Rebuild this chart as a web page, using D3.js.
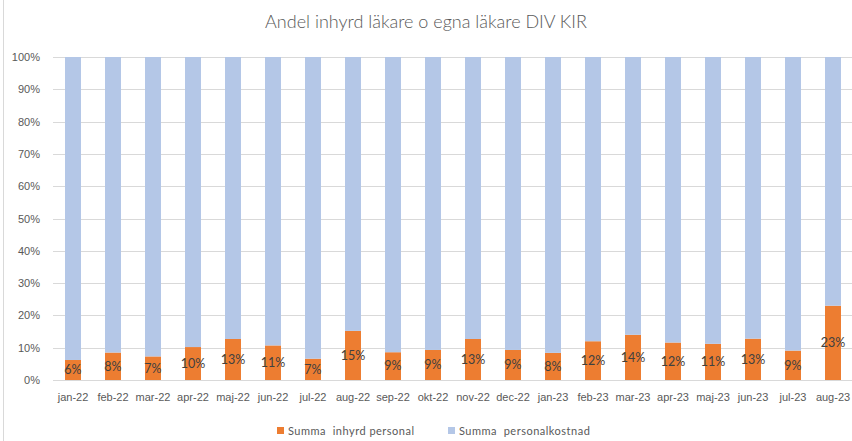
<!DOCTYPE html>
<html lang="sv">
<head>
<meta charset="UTF-8">
<title>Andel inhyrd läkare</title>
<style>
  body { margin: 0; background: #fff; }
  svg { display: block; font-family: Lato, "Liberation Sans", sans-serif; }
</style>
</head>
<body>
<script src="https://cdn.jsdelivr.net/npm/d3@7"></script>
<script>
// data (andel i %)
var months = ["jan-22","feb-22","mar-22","apr-22","maj-22","jun-22","jul-22","aug-22","sep-22","okt-22",
              "nov-22","dec-22","jan-23","feb-23","mar-23","apr-23","maj-23","jun-23","jul-23","aug-23"];
var inhyrd = [6.2, 8.5, 7.3, 10.2, 12.7, 10.7, 6.6, 15.2, 8.6, 9.3,
              12.7, 9.3, 8.4, 12.0, 14.0, 11.6, 11.2, 12.8, 9.1, 23.0];
var labels = ["6%","8%","7%","10%","13%","11%","7%","15%","9%","9%",
              "13%","9%","8%","12%","14%","12%","11%","13%","9%","23%"];
var yTicks = [0,10,20,30,40,50,60,70,80,90,100];
var seriesNames = ["Summa  inhyrd personal", "Summa  personalkostnad"];
var colors = ["#ED7D31", "#B4C7E7"];

var w = 852, h = 441;
var svg = d3.select("body").append("svg").attr("width", w).attr("height", h);

// chart border
svg.append("rect").attr("x", 3.5).attr("y", -1).attr("width", w + 2).attr("height", h + 2)
   .attr("fill", "none").attr("stroke", "#D9D9D9");

svg.append("text").attr("x", 426).attr("y", 28).attr("text-anchor", "middle")
   .attr("font-size", "18px").attr("font-weight", 300).attr("fill", "#595959")
   .text("Andel inhyrd läkare o egna läkare DIV KIR");

var x = d3.scaleBand().domain(months).range([53, 853]).paddingInner(0.6).paddingOuter(0.3);
var y = d3.scaleLinear().domain([0, 100]).range([380, 57]);

// gridlines
svg.append("g").selectAll("line").data(yTicks).enter().append("line")
   .attr("x1", 53).attr("x2", 852)
   .attr("y1", function (d) { return Math.round(y(d)) + 0.5; })
   .attr("y2", function (d) { return Math.round(y(d)) + 0.5; })
   .attr("stroke", "#D9D9D9");

// y axis labels
var yAxis = d3.axisLeft(y).tickValues(yTicks).tickSize(0).tickPadding(0)
   .tickFormat(function (d) { return d + "%"; });
var gy = svg.append("g").attr("transform", "translate(40,0)").call(yAxis);
gy.select(".domain").remove();
gy.selectAll("text").attr("font-size", "11px").attr("fill", "#595959").attr("font-family", null);

// stacked bars
var rows = months.map(function (m, i) { return { m: m, a: inhyrd[i], b: 100 - inhyrd[i] }; });
var stack = d3.stack().keys(["a", "b"])(rows);
svg.append("g").selectAll("g").data(stack).enter().append("g")
   .attr("fill", function (d, i) { return colors[i]; })
   .selectAll("rect").data(function (d) { return d; }).enter().append("rect")
   .attr("x", function (d) { return x(d.data.m); })
   .attr("y", function (d) { return y(d[1]); })
   .attr("width", x.bandwidth())
   .attr("height", function (d) { return y(d[0]) - y(d[1]); });

// data labels
svg.append("g").selectAll("text").data(rows).enter().append("text")
   .attr("x", function (d) { return x(d.m) + x.bandwidth() / 2; })
   .attr("y", function (d) { return y(d.a / 2); })
   .attr("dy", "0.35em")
   .attr("text-anchor", "middle").attr("font-size", "12.5px").attr("fill", "#404040")
   .text(function (d, i) { return labels[i]; });

// x axis labels
var xAxis = d3.axisBottom(x).tickSize(0).tickPadding(0);
var gx = svg.append("g").attr("transform", "translate(0,393)").call(xAxis);
gx.select(".domain").remove();
gx.selectAll("text").attr("font-size", "11px").attr("fill", "#595959").attr("font-family", null);

// legend
var legX = [277, 448];
var leg = svg.append("g").selectAll("g").data(seriesNames).enter().append("g")
   .attr("transform", function (d, i) { return "translate(" + legX[i] + ",427)"; });
leg.append("rect").attr("width", 7).attr("height", 7).attr("fill", function (d, i) { return colors[i]; });
leg.append("text").attr("x", 11).attr("y", 4).attr("dy", "0.35em")
   .attr("font-size", "11px").attr("fill", "#595959").attr("letter-spacing", "0.5px")
   .style("white-space", "pre")
   .text(function (d) { return d; });
</script>
</body>
</html>
